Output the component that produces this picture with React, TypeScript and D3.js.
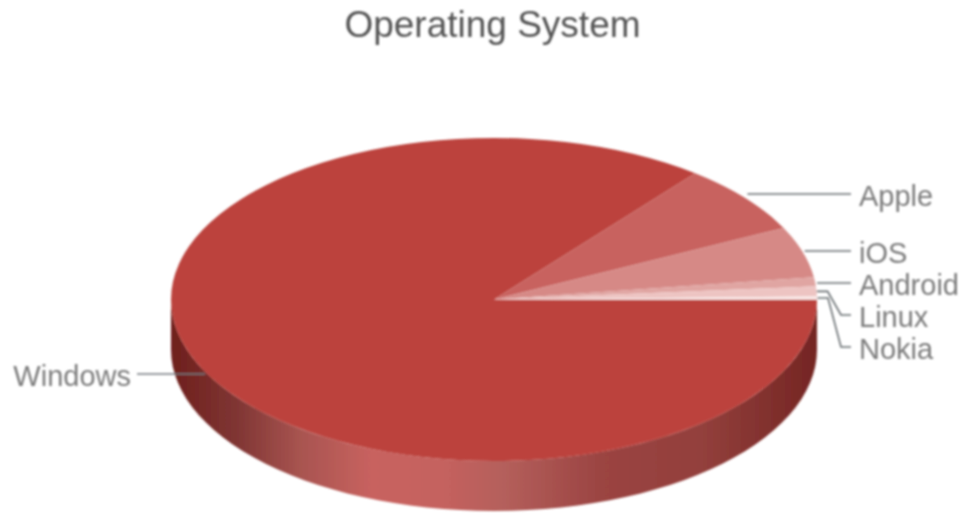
import React from 'react'
import * as d3 from 'd3'

const names = ['Windows', 'Apple', 'iOS', 'Android', 'Linux', 'Nokia']
const shares = [85.7, 7, 5.1, 0.9, 1, 0.3]
const colors = ['#bc433e', '#c8625e', '#d68986', '#e0a5a2', '#edc4c2', '#fae9e8']
// label anchor and leader line end, per slice
const labelX = [131, 859, 859, 859, 859, 859]
const labelY = [374, 194, 251, 283, 315, 347]

const width = 963
const height = 514
const cx = 494
const cy = 299.5
const rx = 323
const ry = 161.5
const depth = 50
const squash = ry / rx

export default function App() {
    const slices = d3
        .pie<number>()
        .sort(null)
        .startAngle(Math.PI / 2)
        .endAngle(Math.PI / 2 + Math.PI * 2)(shares)
    const arc = d3.arc<d3.PieArcDatum<number>>().innerRadius(0).outerRadius(rx)

    // visible part of the side wall, right edge round the front to the left edge
    const front = d3.range(0, 181, 3).map((a) => (a * Math.PI) / 180)
    const rimTop = front.map((a) => [cx + rx * Math.cos(a), cy + ry * Math.sin(a)] as [number, number])
    const rimBottom = rimTop.map(([x, y]) => [x, y + depth] as [number, number]).reverse()
    const wallPath = d3.line()([...rimTop, ...rimBottom]) + 'Z'

    const leaders = slices.map((s, i) => {
        const mid = (s.startAngle + s.endAngle) / 2 - Math.PI / 2
        const px = cx + rx * Math.cos(mid)
        const py = cy + ry * Math.sin(mid)
        const y = labelY[i]
        if (i === 0) return d3.line()([[labelX[i] + 6, y], [px + 2, y]])
        const endX = labelX[i] - 8
        // Linux and Nokia are too close to the rim to go straight across
        if (i > 3) return d3.line()([[px, py], [px + 11, py], [endX - 10, y], [endX, y]])
        return d3.line()([[px + 2, y], [endX, y]])
    })

    return (
        <svg width={width} height={height} style={{ position: 'absolute', left: 0, top: 0 }} fontFamily="'Liberation Sans', Arial, sans-serif">
            <defs>
                <linearGradient id="side" gradientUnits="userSpaceOnUse" x1={cx - rx} x2={cx + rx} y1={0} y2={0}>
                    <stop offset="0" stopColor="#6e1f1c" />
                    <stop offset="0.1" stopColor="#7f3533" />
                    <stop offset="0.2" stopColor="#a85450" />
                    <stop offset="0.31" stopColor="#c8625f" />
                    <stop offset="0.42" stopColor="#c5625e" />
                    <stop offset="0.51" stopColor="#b5605c" />
                    <stop offset="0.665" stopColor="#9b4442" />
                    <stop offset="0.82" stopColor="#93403c" />
                    <stop offset="1" stopColor="#742523" />
                </linearGradient>
                <filter id="soft" x="-5%" y="-5%" width="110%" height="110%">
                    <feGaussianBlur stdDeviation="0.8" />
                </filter>
            </defs>
            <g filter="url(#soft)">
                <text x={492.5} y={37} textAnchor="middle" fontSize={37} fill="#555">
                    Operating System
                </text>
                <path d={wallPath} fill="url(#side)" />
                <g transform={`translate(${cx},${cy}) scale(1,${squash})`}>
                    {slices.map((s, i) => (
                        <path key={names[i]} d={arc(s) ?? ''} fill={colors[i]} />
                    ))}
                </g>
                {leaders.map((d, i) => (
                    <path key={names[i]} d={d ?? ''} fill="none" stroke={i === 0 ? '#73797c' : '#666c70'} strokeWidth={1.6} />
                ))}
                {names.map((n, i) => (
                    <text key={n} x={labelX[i]} y={labelY[i] + 12} textAnchor={i === 0 ? 'end' : 'start'} fontSize={29} fill="#7c7c7c">
                        {n}
                    </text>
                ))}
            </g>
        </svg>
    )
}
